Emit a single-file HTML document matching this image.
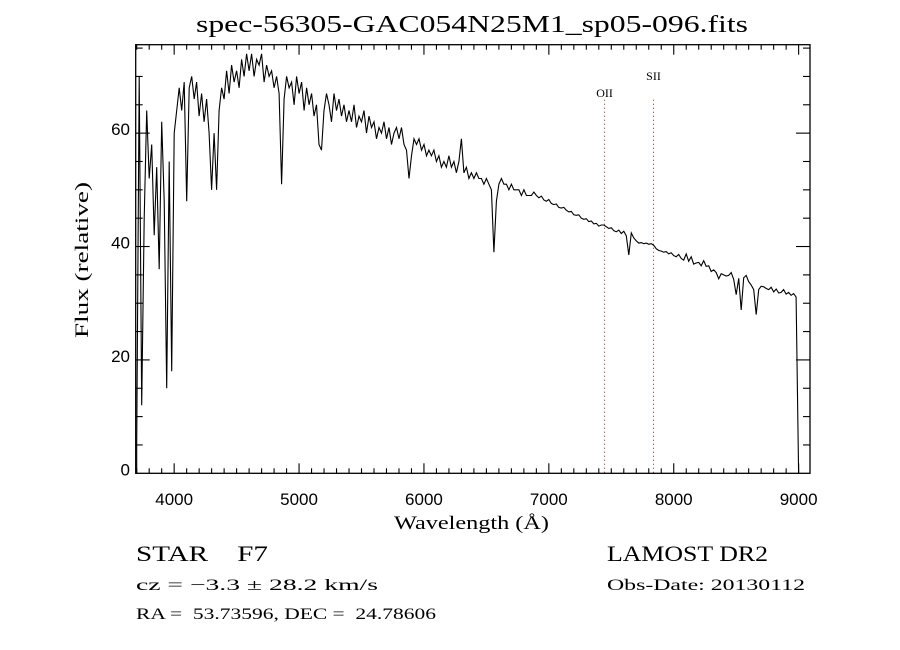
<!DOCTYPE html>
<html><head><meta charset="utf-8">
<style>
html,body{margin:0;padding:0;background:#fff;}
svg{display:block;}
text{fill:#000;}
.serif{font-family:"Liberation Serif",serif;}
.sans{font-family:"Liberation Sans",sans-serif;}
</style></head>
<body>
<svg id="chart" width="900" height="650" viewBox="0 0 900 650" xmlns="http://www.w3.org/2000/svg">
<rect x="0" y="0" width="900" height="650" fill="#fff"/>
<text class="serif" x="196" y="32" font-size="24" textLength="552" lengthAdjust="spacingAndGlyphs">spec-56305-GAC054N25M1_sp05-096.fits</text>
<g id="ticks"></g>
<g id="lines"></g>
<path id="spec" fill="none" stroke="#000" stroke-width="1.1"/>
<rect x="135.7" y="44.7" width="674.3" height="428.6" fill="none" stroke="#000" stroke-width="1.3"/>
<g id="labels" class="sans" font-size="17"></g>
<text class="serif" x="394" y="529" font-size="19" textLength="155" lengthAdjust="spacingAndGlyphs">Wavelength (Å)</text>
<text class="serif" font-size="19" textLength="156" lengthAdjust="spacingAndGlyphs" transform="translate(88,338) rotate(-90)">Flux (relative)</text>
<text class="serif" x="136" y="561" font-size="22" textLength="132" lengthAdjust="spacingAndGlyphs" xml:space="preserve">STAR    F7</text>
<text class="serif" x="607" y="561" font-size="22" textLength="161" lengthAdjust="spacingAndGlyphs">LAMOST DR2</text>
<text class="serif" x="136" y="590" font-size="16" textLength="242" lengthAdjust="spacingAndGlyphs">cz = −3.3 ± 28.2 km/s</text>
<text class="serif" x="607" y="590" font-size="16" textLength="198" lengthAdjust="spacingAndGlyphs">Obs-Date: 20130112</text>
<text class="serif" x="136" y="619" font-size="16" textLength="300" lengthAdjust="spacingAndGlyphs" xml:space="preserve">RA =  53.73596, DEC =  24.78606</text>
</svg>
<script>
const START_WL = 3700;
const STEP_WL = 20;
const flux = [5,70,12,45,64,52,58,42,54,36,62,48,15,55,18,60,
64,68,64,69,48,68,70,66,69,63,67,62,66,60,50,60,50,64,68,66,71,67,72,69,71,68,73,70,74,71,74,70,73,72,74,69,72,70,71,68,70,67,51,66,
70,68,69,65,70,67,69,64,68,65,67,63,65,58,57,
64,67,65,62,67,64,66,63,65,62,64,62,65,61,63,62,64,60,63,61,62,59,61,60,62,59,61,58,60,61,59,61,58,57,52,56,59,58,59,57,58,56,57,56,57,55,56,54,55,54,56,54,55,53,55,59,53,54,52,53,52,53,52,52,51,52,51,50,39,48,51,52,51,51,50,51,50,50,50,49,50,49,49,49,49.6,49,
48.6,48.9,48.2,48.0,48.3,47.6,47.4,47.5,46.9,46.8,46.9,46.4,46.1,46.2,45.6,45.5,45.6,45.0,44.8,44.9,44.4,44.5,44.0,44.1,43.6,43.8,43.8,43.5,43.2,43.3,42.8,42.6,42.9,42.3,42.7,41.9,38.5,42.4,41.5,41.0,40.6,40.7,40.5,40.6,40.4,40.5,40.2,39.6,39.3,39.2,39.0,39.1,38.7,38.9,38.4,38.2,38.6,37.9,37.6,38.7,37.4,38.2,36.9,37.1,37.2,36.6,37.5,36.5,36.6,35.6,35.9,35.4,34.3,35.2,35.0,34.8,34.9,35.4,34.2,31.5,34.4,28.8,34.5,34.9,33.8,33.2,32.4,28.0,32.4,33.0,32.9,32.6,32.4,32.8,32.0,32.5,31.8,31.9,32.4,31.6,31.9,31.4,31.7,31.1,0];
const xTicks = [4000,5000,6000,7000,8000,9000];
const yTicks = [0,20,40,60];
const markerWl = [7446,7838];
const markerNames = ["OII","SII"];

const X0=135.7, X1=810, Y0=473.3, Y1=44.7;
const WMIN=3692, WMAX=9091, FMIN=0, FMAX=75.6;
const sx = w => X0 + (w-WMIN)/(WMAX-WMIN)*(X1-X0);
const sy = f => Y0 - (f-FMIN)/(FMAX-FMIN)*(Y0-Y1);
const NS="http://www.w3.org/2000/svg";

let d = "M"+sx(START_WL).toFixed(1)+","+sy(0).toFixed(1);
flux.forEach((f,i)=>{ d += " L"+sx(START_WL+i*STEP_WL).toFixed(1)+","+sy(f).toFixed(1); });
document.getElementById('spec').setAttribute('d', d);

const tg=document.getElementById('ticks');
const lg=document.getElementById('labels');
function line(x1,y1,x2,y2,name){
  const l=document.createElementNS(NS,'line');
  l.setAttribute('x1',x1);l.setAttribute('y1',y1);l.setAttribute('x2',x2);l.setAttribute('y2',y2);
  l.setAttribute('stroke','#000');l.setAttribute('stroke-width','1.1');
  
  
  tg.appendChild(l);
}
for(let w=3700; w<=9090; w+=100){
  const major = w%1000===0;
  const len = major?10:5;
  const x=sx(w);
  line(x,Y0,x,Y0-len,'x-tick');
  line(x,Y1,x,Y1+len,'x-tick-top');
}
for(let f=5; f<=75; f+=5){
  const major = f%20===0;
  const len = major?14:7;
  const y=sy(f);
  line(X0,y,X0+len,y,'y-tick');
  line(X1,y,X1-len,y,'y-tick-right');
}
xTicks.forEach(w=>{
  const t=document.createElementNS(NS,'text');
  t.setAttribute('x',sx(w));t.setAttribute('y',505);t.setAttribute('text-anchor','middle');
  t.textContent=w;
  
  
  lg.appendChild(t);
});
yTicks.forEach(f=>{
  const t=document.createElementNS(NS,'text');
  t.setAttribute('x',130);t.setAttribute('y',sy(f)+2);t.setAttribute('text-anchor','end');
  t.textContent=f;
  
  
  lg.appendChild(t);
});
const mg=document.getElementById('lines');
markerWl.forEach((w,i)=>{
  const l=document.createElementNS(NS,'line');
  const x=sx(w);
  l.setAttribute('x1',x);l.setAttribute('x2',x);l.setAttribute('y1',Y1+55);l.setAttribute('y2',Y0);
  l.setAttribute('stroke','#8b2a2a');l.setAttribute('stroke-width','1');l.setAttribute('stroke-dasharray','1,3');
  
  
  mg.appendChild(l);
  const t=document.createElementNS(NS,'text');
  t.setAttribute('x',x);t.setAttribute('y', i===0?97:80);t.setAttribute('text-anchor','middle');
  t.setAttribute('font-family','"Liberation Serif",serif');t.setAttribute('font-size','12');
  t.textContent=markerNames[i];
  
  
  mg.appendChild(t);
});
</script>
</body></html>
